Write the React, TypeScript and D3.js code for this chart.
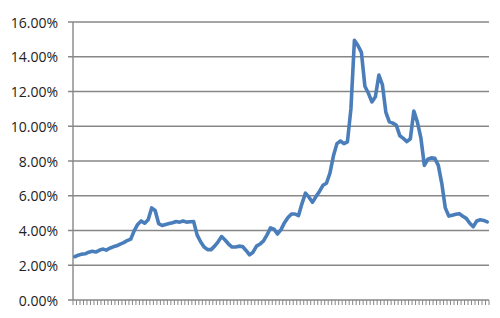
import React from "react";
import * as d3 from "d3";

const values: number[] = [
  2.49, 2.58, 2.64, 2.66, 2.75, 2.8, 2.76, 2.86, 2.93, 2.87,
  2.98, 3.06, 3.12, 3.22, 3.3, 3.42, 3.5, 3.98, 4.35, 4.55,
  4.42, 4.62, 5.3, 5.15, 4.4, 4.29, 4.35, 4.4, 4.45, 4.52,
  4.48, 4.55, 4.48, 4.5, 4.52, 3.75, 3.35, 3.05, 2.9, 2.9,
  3.1, 3.35, 3.65, 3.45, 3.22, 3.05, 3.05, 3.1, 3.08, 2.85,
  2.6, 2.75, 3.1, 3.22, 3.4, 3.75, 4.15, 4.08, 3.8, 4.05,
  4.45, 4.75, 4.95, 4.95, 4.85, 5.55, 6.15, 5.92, 5.62, 5.95,
  6.25, 6.6, 6.72, 7.3, 8.3, 9.0, 9.15, 9.0, 9.1, 11.0,
  14.95, 14.65, 14.25, 12.3, 11.9, 11.4, 11.7, 12.95, 12.4, 10.8,
  10.25, 10.18, 10.05, 9.45, 9.3, 9.12, 9.28, 10.88, 10.25, 9.35,
  7.75, 8.1, 8.18, 8.15, 7.75, 6.7, 5.3, 4.83, 4.88, 4.93,
  4.97, 4.82, 4.7, 4.42, 4.22, 4.55, 4.62, 4.58, 4.5,
];

const yTicks: number[] = [0, 2, 4, 6, 8, 10, 12, 14, 16];

export default function App() {
  const W = 500;
  const H = 318;
  const left = 73;
  const right = 489;
  const top = 22;
  const bottom = 300;

  const idx = values.map((_, i) => i);
  const x = d3.scaleBand<number>().domain(idx).range([left, right]).paddingInner(0).paddingOuter(0);
  const y = d3.scaleLinear().domain([0, 16]).range([bottom, top]);
  const bw = x.bandwidth();

  const line = d3
    .line<number>()
    .x((_, i) => (x(i) as number) + bw / 2)
    .y((d) => y(d));

  const tickXs = idx.map((i) => x(i) as number).concat([right]);
  const fmt = (v: number) => v.toFixed(2) + "%";

  return (
    <svg
      width={W}
      height={H}
      style={{ position: "absolute", left: 0, top: 0, background: "#fff" }}
      fontFamily="'Open Sans', sans-serif"
    >
      {yTicks.map((t) => (
        <g key={t}>
          {t > 0 && (
            <line x1={68} x2={right} y1={y(t)} y2={y(t)} stroke="#878787" strokeWidth={1.4} />
          )}
          <text
            x={58}
            y={y(t)}
            textAnchor="end"
            dominantBaseline="central"
            fontSize={14}
            fill="#222"
          >
            {fmt(t)}
          </text>
        </g>
      ))}
      <line x1={left} x2={left} y1={top} y2={bottom} stroke="#878787" strokeWidth={1.4} />
      <line x1={68} x2={right} y1={bottom} y2={bottom} stroke="#878787" strokeWidth={1.4} />
      {tickXs.map((tx, i) => (
        <line key={i} x1={tx} x2={tx} y1={bottom} y2={bottom + 5} stroke="#878787" strokeWidth={1} />
      ))}
      <path
        d={line(values) || ""}
        fill="none"
        stroke="#4a7ebb"
        strokeWidth={3.6}
        strokeLinejoin="round"
        strokeLinecap="round"
      />
    </svg>
  );
}
